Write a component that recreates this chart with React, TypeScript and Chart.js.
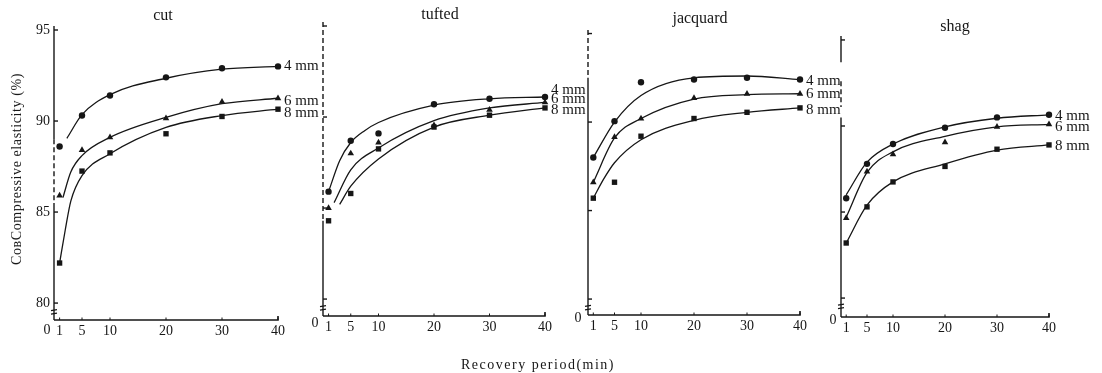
import React, { useEffect, useRef } from "react";
import { Chart, registerables } from "chart.js";

Chart.register(...registerables);

// ---- data -------------------------------------------------------------
const recoveryMin = [1, 5, 10, 20, 30, 40];
const xTickValues = [1, 5, 10, 20, 30, 40];
const yTickValues = [80, 85, 90, 95];
const thicknessLabels = ["4 mm", "6 mm", "8 mm"];
const panelTitles = ["cut", "tufted", "jacquard", "shag"];

// measured compressive elasticity (%), per pile height
const cut4mm = [88.6, 90.3, 91.4, 92.4, 92.9, 93.0];
const cut6mm = [85.9, 88.4, 89.1, 90.15, 91.05, 91.25];
const cut8mm = [82.2, 87.25, 88.25, 89.3, 90.25, 90.65];

const tufted4mm = [85.9, 88.7, 89.1, 90.7, 91.0, 91.1];
const tufted6mm = [85.0, 88.0, 88.6, 89.55, 90.4, 90.8];
const tufted8mm = [84.3, 85.8, 88.25, 89.45, 90.1, 90.5];

const jacquard4mm = [88.0, 90.05, 92.25, 92.4, 92.5, 92.4];
const jacquard6mm = [86.6, 89.15, 90.2, 91.35, 91.6, 91.6];
const jacquard8mm = [85.7, 86.6, 89.2, 90.2, 90.55, 90.8];

const shag4mm = [85.8, 87.8, 88.95, 89.9, 90.5, 90.65];
const shag6mm = [84.65, 87.35, 88.35, 89.05, 89.95, 90.1];
const shag8mm = [83.2, 85.3, 86.75, 87.65, 88.65, 88.9];

// fitted recovery curves: knot x (min) and y (%)
const cutFit4X = [2.3, 5, 10, 20, 30, 40];
const cutFit4Y = [89.05, 90.35, 91.45, 92.35, 92.85, 93.0];
const cutFit6X = [1.6, 3, 5, 10, 20, 30, 40];
const cutFit6Y = [85.8, 87.2, 88.1, 89.1, 90.2, 90.95, 91.25];
const cutFit8X = [1, 2, 3, 5, 10, 20, 30, 40];
const cutFit8Y = [82.2, 84.0, 85.6, 87.0, 88.2, 89.65, 90.3, 90.65];

const tuftedFit4X = [1, 3, 5, 7.5, 10, 20, 30, 40];
const tuftedFit4Y = [85.9, 87.6, 88.6, 89.25, 89.7, 90.65, 91.0, 91.1];
const tuftedFit6X = [2, 5, 10, 20, 30, 40];
const tuftedFit6Y = [85.3, 87.1, 88.3, 89.8, 90.5, 90.8];
const tuftedFit8X = [3, 5, 10, 20, 30, 40];
const tuftedFit8Y = [85.2, 86.2, 87.7, 89.45, 90.1, 90.5];

const jacquardFit4X = [1, 5, 10, 20, 30, 40];
const jacquardFit4Y = [88.0, 90.0, 91.5, 92.5, 92.6, 92.4];
const jacquardFit6X = [1, 5, 10, 20, 30, 40];
const jacquardFit6Y = [86.6, 89.1, 90.2, 91.3, 91.55, 91.6];
const jacquardFit8X = [1, 3, 5, 10, 20, 30, 40];
const jacquardFit8Y = [85.7, 86.8, 87.7, 89.0, 90.1, 90.55, 90.8];

const shagFit4X = [1, 5, 10, 20, 30, 40];
const shagFit4Y = [86.0, 87.9, 88.95, 89.95, 90.45, 90.65];
const shagFit6X = [1, 5, 10, 20, 30, 40];
const shagFit6Y = [84.7, 87.3, 88.5, 89.4, 89.95, 90.1];
const shagFit8X = [1, 5, 10, 20, 30, 40];
const shagFit8Y = [83.2, 85.4, 86.75, 87.8, 88.6, 88.9];

// where the "4 mm / 6 mm / 8 mm" tags sit on the value axis
const cutTagAt = [93.0, 91.1, 90.45];
const tuftedTagAt = [91.5, 91.0, 90.4];
const jacquardTagAt = [92.3, 91.6, 90.7];
const shagTagAt = [90.6, 89.95, 88.85];

// ---- styling ----------------------------------------------------------
const INK = "#161616";
const SERIF = "'Liberation Serif', 'DejaVu Serif', serif";
const PAGE_H = 373;
const X_AXIS_H = 30;
const Y_AXIS_W = 40;
const markerStyles = ["circle", "triangle", "rect"];
const markerRadius = [3.2, 3.8, 3.8];

type Box = {
  canvasLeft: number;
  canvasWidth: number;
  l: number;
  r: number;
  t: number;
  b: number;
  yMin: number;
  yMax: number;
  titleX: number;
  titleY: number;
  zeroX: number;
  zeroY: number;
  axisSegs: [number, number, boolean][];
  showYLabels: boolean;
};

type Panel = {
  title: string;
  points: number[][];
  fits: { x: number[]; y: number[] }[];
  tagAt: number[];
  box: Box;
};

const panels: Panel[] = [
  {
    title: panelTitles[0],
    points: [cut4mm, cut6mm, cut8mm],
    fits: [
      { x: cutFit4X, y: cutFit4Y },
      { x: cutFit6X, y: cutFit6Y },
      { x: cutFit8X, y: cutFit8Y },
    ],
    tagAt: cutTagAt,
    box: {
      canvasLeft: 0, canvasWidth: 345, l: 54, r: 278, t: 26, b: 320,
      yMin: 79.07, yMax: 95.22, titleX: 163, titleY: 16, zeroX: 47, zeroY: 330,
      axisSegs: [[95.22, 89, false], [89, 85.5, true], [85.5, 79.07, false]],
      showYLabels: true,
    },
  },
  {
    title: panelTitles[1],
    points: [tufted4mm, tufted6mm, tufted8mm],
    fits: [
      { x: tuftedFit4X, y: tuftedFit4Y },
      { x: tuftedFit6X, y: tuftedFit6Y },
      { x: tuftedFit8X, y: tuftedFit8Y },
    ],
    tagAt: tuftedTagAt,
    box: {
      canvasLeft: 300, canvasWidth: 305, l: 323, r: 545, t: 22, b: 316,
      yMin: 79.07, yMax: 95.22, titleX: 440, titleY: 15, zeroX: 315, zeroY: 323,
      axisSegs: [[95.22, 84.3, true], [84.3, 79.07, false]],
      showYLabels: false,
    },
  },
  {
    title: panelTitles[2],
    points: [jacquard4mm, jacquard6mm, jacquard8mm],
    fits: [
      { x: jacquardFit4X, y: jacquardFit4Y },
      { x: jacquardFit6X, y: jacquardFit6Y },
      { x: jacquardFit8X, y: jacquardFit8Y },
    ],
    tagAt: jacquardTagAt,
    box: {
      canvasLeft: 565, canvasWidth: 295, l: 588, r: 800, t: 30, b: 315,
      yMin: 79.1, yMax: 95.2, titleX: 700, titleY: 19, zeroX: 578, zeroY: 318,
      axisSegs: [[95.2, 92.5, true], [92.5, 79.1, false]],
      showYLabels: false,
    },
  },
  {
    title: panelTitles[3],
    points: [shag4mm, shag6mm, shag8mm],
    fits: [
      { x: shagFit4X, y: shagFit4Y },
      { x: shagFit6X, y: shagFit6Y },
      { x: shagFit8X, y: shagFit8Y },
    ],
    tagAt: shagTagAt,
    box: {
      canvasLeft: 820, canvasWidth: 282, l: 841, r: 1049, t: 36, b: 317,
      yMin: 78.9, yMax: 95.23, titleX: 955, titleY: 27, zeroX: 833, zeroY: 320,
      axisSegs: [[95.23, 93.7, false], [92.6, 91.1, true], [90.5, 78.9, false]],
      showYLabels: false,
    },
  },
];

// axes, break marks, titles and curve tags drawn over the plot
function panelDecor(panel: Panel) {
  const bx = panel.box;
  return {
    id: "panelDecor",
    afterDatasetsDraw(chart: any) {
      const { ctx, chartArea: a, scales } = chart;
      const xs = scales.x;
      const ys = scales.y;
      const ox = bx.canvasLeft;
      ctx.save();
      ctx.strokeStyle = INK;
      ctx.fillStyle = INK;
      ctx.lineWidth = 1.4;

      // value axis
      for (const [from, to, dashed] of bx.axisSegs) {
        ctx.setLineDash(dashed ? [5, 3] : []);
        ctx.beginPath();
        ctx.moveTo(a.left, ys.getPixelForValue(from));
        ctx.lineTo(a.left, ys.getPixelForValue(to));
        ctx.stroke();
      }
      ctx.setLineDash([]);

      // value ticks
      for (const v of yTickValues) {
        const py = ys.getPixelForValue(v);
        ctx.beginPath();
        ctx.moveTo(a.left, py);
        ctx.lineTo(a.left + 4, py);
        ctx.stroke();
      }

      // axis break
      const pb = ys.getPixelForValue(79.5);
      ctx.lineWidth = 1.2;
      ctx.beginPath();
      ctx.moveTo(a.left - 3, pb - 1.5);
      ctx.lineTo(a.left + 3, pb - 2.5);
      ctx.moveTo(a.left - 3, pb + 2);
      ctx.lineTo(a.left + 3, pb + 1);
      ctx.stroke();

      // time axis
      ctx.lineWidth = 1.6;
      const x40 = xs.getPixelForValue(40);
      ctx.beginPath();
      ctx.moveTo(a.left, a.bottom);
      ctx.lineTo(x40, a.bottom);
      ctx.lineTo(x40, a.bottom - 4);
      ctx.stroke();
      ctx.lineWidth = 1;
      for (const v of xTickValues) {
        const px = xs.getPixelForValue(v);
        ctx.beginPath();
        ctx.moveTo(px, a.bottom);
        ctx.lineTo(px, a.bottom - 2.5);
        ctx.stroke();
      }

      // origin label
      ctx.font = `14px ${SERIF}`;
      ctx.textAlign = "center";
      ctx.textBaseline = "middle";
      ctx.fillText("0", bx.zeroX - ox, bx.zeroY);

      // panel title
      ctx.font = `16px ${SERIF}`;
      ctx.fillText(panel.title, bx.titleX - ox, bx.titleY);

      // thickness tags at the curve ends
      ctx.font = `15px ${SERIF}`;
      ctx.textAlign = "left";
      panel.tagAt.forEach((v, i) => {
        ctx.fillText(thicknessLabels[i], x40 + 6, ys.getPixelForValue(v));
      });
      ctx.restore();
    },
  };
}

function buildConfig(panel: Panel): any {
  const bx = panel.box;
  const yW = bx.showYLabels ? Y_AXIS_W : 0;
  const datasets: any[] = [];
  panel.fits.forEach((fit, i) => {
    datasets.push({
      label: `${thicknessLabels[i]} fit`,
      data: fit.x.map((x, k) => ({ x, y: fit.y[k] })),
      showLine: true,
      pointRadius: 0,
      borderColor: INK,
      borderWidth: 1.3,
      cubicInterpolationMode: "monotone",
      fill: false,
      clip: false,
    });
  });
  panel.points.forEach((vals, i) => {
    datasets.push({
      label: thicknessLabels[i],
      data: recoveryMin.map((x, k) => ({ x, y: vals[k] })),
      showLine: false,
      pointStyle: markerStyles[i],
      pointRadius: markerRadius[i],
      backgroundColor: INK,
      borderColor: INK,
      borderWidth: 0,
      clip: false,
    });
  });

  return {
    type: "scatter",
    data: { datasets },
    options: {
      animation: false,
      responsive: false,
      events: [],
      layout: {
        padding: {
          left: bx.l - bx.canvasLeft - yW,
          right: bx.canvasLeft + bx.canvasWidth - bx.r,
          top: bx.t,
          bottom: PAGE_H - bx.b - X_AXIS_H,
        },
      },
      plugins: { legend: { display: false }, tooltip: { enabled: false } },
      scales: {
        x: {
          type: "linear",
          min: 0,
          max: 40,
          grid: { display: false, drawTicks: false },
          border: { display: false },
          afterBuildTicks: (s: any) => {
            s.ticks = xTickValues.map((v) => ({ value: v }));
          },
          afterFit: (s: any) => {
            s.height = X_AXIS_H;
          },
          ticks: {
            autoSkip: false,
            maxRotation: 0,
            padding: 3,
            color: INK,
            font: { family: SERIF, size: 14 },
          },
        },
        y: {
          type: "linear",
          min: bx.yMin,
          max: bx.yMax,
          display: bx.showYLabels,
          grid: { display: false, drawTicks: false },
          border: { display: false },
          afterBuildTicks: (s: any) => {
            s.ticks = yTickValues.map((v) => ({ value: v }));
          },
          afterFit: (s: any) => {
            s.width = yW;
          },
          ticks: {
            padding: 4,
            color: INK,
            font: { family: SERIF, size: 14 },
          },
        },
      },
    },
    plugins: [panelDecor(panel)],
  };
}

function PanelChart({ panel }: { panel: Panel }) {
  const ref = useRef<HTMLCanvasElement>(null);
  useEffect(() => {
    const chart = new Chart(ref.current as HTMLCanvasElement, buildConfig(panel));
    return () => chart.destroy();
  }, [panel]);
  const bx = panel.box;
  return (
    <canvas
      ref={ref}
      width={bx.canvasWidth}
      height={PAGE_H}
      style={{
        position: "absolute",
        left: bx.canvasLeft,
        top: 0,
        width: bx.canvasWidth,
        height: PAGE_H,
      }}
    />
  );
}

export default function App() {
  return (
    <div
      style={{
        position: "fixed",
        left: 0,
        top: 0,
        width: 1102,
        height: PAGE_H,
        background: "#ffffff",
        overflow: "hidden",
        fontFamily: SERIF,
        color: INK,
      }}
    >
      {panels.map((p) => (
        <PanelChart key={p.title} panel={p} />
      ))}
      <div
        style={{
          position: "absolute",
          left: 17,
          top: 169,
          transform: "translate(-50%, -50%) rotate(-90deg)",
          whiteSpace: "nowrap",
          fontSize: 14,
          letterSpacing: 0.6,
        }}
      >
        CoвCompressive  elasticity (%)
      </div>
      <div
        style={{
          position: "absolute",
          left: 538,
          top: 365,
          transform: "translate(-50%, -50%)",
          whiteSpace: "nowrap",
          fontSize: 14,
          letterSpacing: 1.5,
        }}
      >
        Recovery period(min)
      </div>
    </div>
  );
}
